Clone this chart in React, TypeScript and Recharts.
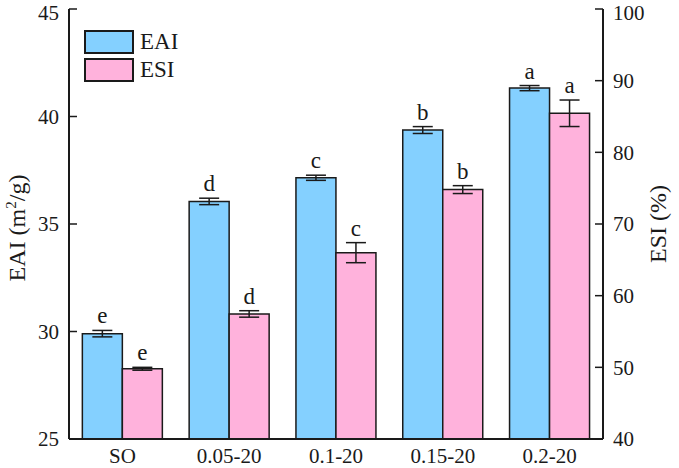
import { BarChart, Bar, XAxis, YAxis, ErrorBar, LabelList } from 'recharts'

const CATEGORIES = ['SO', '0.05-20', '0.1-20', '0.15-20', '0.2-20']
const EAI = [29.9, 36.05, 37.15, 39.37, 41.32]
const EAI_ERR = [0.15, 0.15, 0.12, 0.16, 0.12]
const ESI = [49.8, 57.45, 66.0, 74.8, 85.45]
const ESI_ERR = [0.2, 0.45, 1.4, 0.55, 1.85]
const EAI_LETTERS = ['e', 'd', 'c', 'b', 'a']
const ESI_LETTERS = ['e', 'd', 'c', 'b', 'a']
const LEFT_TICKS = [25, 30, 35, 40, 45]
const RIGHT_TICKS = [40, 50, 60, 70, 80, 90, 100]

const FONT = '"Liberation Serif", "Times New Roman", serif'
const INK = '#1a1a1a'
const BLUE = '#84D0FF'
const PINK = '#FFB2DC'

const data = CATEGORIES.map((name, i) => ({
  name,
  eai: EAI[i], eaiErr: EAI_ERR[i],
  esi: ESI[i], esiErr: ESI_ERR[i],
}))

// letter above the error bar; error px derived from the bar's own geometry
function letterLabel(letters: string[], errs: number[], base: number) {
  return (p: any) => {
    const { x, y, width, height, value, index } = p
    const errPx = (errs[index] / (Number(value) - base)) * height
    return (
      <text x={x + width / 2} y={y - errPx - 7} textAnchor="middle"
        fontFamily={FONT} fontSize={23} fill={INK}>
        {letters[index]}
      </text>
    )
  }
}

function LeftTitle() {
  return (
    <text transform="translate(25,228) rotate(-90)" textAnchor="middle"
      fontFamily={FONT} fontSize={24} fill={INK}>
      EAI (m<tspan dy={-9} fontSize={15}>2</tspan><tspan dy={9}>/g)</tspan>
    </text>
  )
}

function RightTitle() {
  return (
    <text transform="translate(666,224) rotate(-90)" textAnchor="middle"
      fontFamily={FONT} fontSize={24} fill={INK}>
      ESI (%)
    </text>
  )
}

const tickStyle = { fontFamily: FONT, fontSize: 21, fill: INK }
const axisLine = { stroke: INK, strokeWidth: 2 }

export default function App() {
  return (
    <div style={{ position: 'absolute', left: 0, top: 0, width: 679, height: 468, background: '#fff' }}>
      <BarChart width={679} height={468} data={data}
        margin={{ top: 9, right: 0, left: 0, bottom: 0 }}
        barCategoryGap="12.5%" barGap={0}>
        <XAxis dataKey="name" height={29} tick={tickStyle} tickLine={false}
          axisLine={axisLine} tickMargin={3} />
        <XAxis xAxisId="top" dataKey="name" orientation="top" height={0}
          tick={false} tickLine={false} axisLine={axisLine} />
        <YAxis yAxisId="left" width={69} domain={[25, 45]} ticks={LEFT_TICKS}
          allowDataOverflow tick={tickStyle} tickSize={-8} tickMargin={18}
          tickLine={{ stroke: INK, strokeWidth: 1.5 }} axisLine={axisLine} />
        <YAxis yAxisId="right" orientation="right" width={76} domain={[40, 100]}
          ticks={RIGHT_TICKS} allowDataOverflow tick={tickStyle} tickSize={-8}
          tickMargin={18} tickLine={{ stroke: INK, strokeWidth: 1.5 }} axisLine={axisLine} />
        <Bar yAxisId="left" dataKey="eai" fill={BLUE} stroke={INK} strokeWidth={1.5}
          isAnimationActive={false}>
          <ErrorBar dataKey="eaiErr" width={10} stroke={INK} strokeWidth={1.5} />
          <LabelList dataKey="eai" content={letterLabel(EAI_LETTERS, EAI_ERR, 25)} />
        </Bar>
        <Bar yAxisId="right" dataKey="esi" fill={PINK} stroke={INK} strokeWidth={1.5}
          isAnimationActive={false}>
          <ErrorBar dataKey="esiErr" width={10} stroke={INK} strokeWidth={1.5} />
          <LabelList dataKey="esi" content={letterLabel(ESI_LETTERS, ESI_ERR, 40)} />
        </Bar>
        <LeftTitle />
        <RightTitle />
      </BarChart>
      {/* legend */}
      <div style={{ position: 'absolute', left: 84, top: 28, fontFamily: FONT, fontSize: 23, color: INK }}>
        {[['EAI', BLUE], ['ESI', PINK]].map(([label, c]) => (
          <div key={label} style={{ display: 'flex', alignItems: 'center', height: 28 }}>
            <div style={{ width: 46, height: 20, background: c, border: `2px solid ${INK}`, marginRight: 6 }} />
            <span>{label}</span>
          </div>
        ))}
      </div>
    </div>
  )
}
